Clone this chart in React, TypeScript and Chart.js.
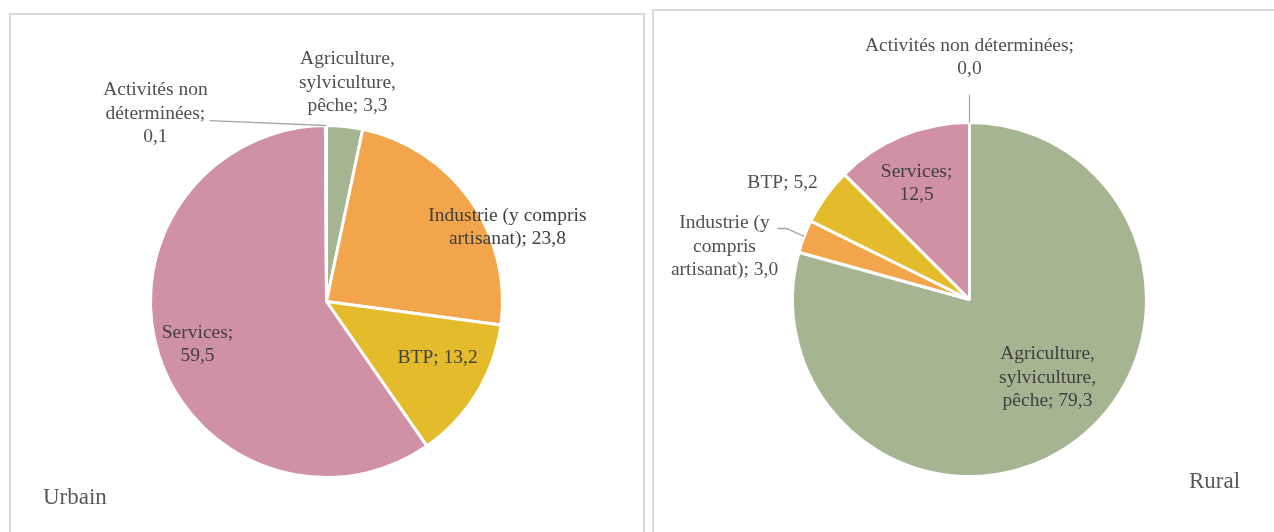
import React, { useEffect, useRef } from "react";
import { Chart, registerables } from "chart.js";

Chart.register(...registerables);

// ---- Data ----
const categories = [
  "Agriculture, sylviculture, pêche",
  "Industrie (y compris artisanat)",
  "BTP",
  "Services",
  "Activités non déterminées",
];
const urbanValues = [3.3, 23.8, 13.2, 59.5, 0.1];
const ruralValues = [79.3, 3.0, 5.2, 12.5, 0.0];

// wrapped data-label texts ({v} = value)
const urbanLabelText = [
  "Agriculture,\nsylviculture,\npêche; {v}",
  "Industrie (y compris\nartisanat); {v}",
  "BTP; {v}",
  "Services;\n{v}",
  "Activités non\ndéterminées;\n{v}",
];
const ruralLabelText = [
  "Agriculture,\nsylviculture,\npêche; {v}",
  "Industrie (y\ncompris\nartisanat); {v}",
  "BTP; {v}",
  "Services;\n{v}",
  "Activités non déterminées;\n{v}",
];

// ---- Styles ----
const sliceColors = ["#a5b592", "#f2a54a", "#e4bc2b", "#d191a5", "#a0a0a0"];
const FONT = "'Liberation Serif', 'Times New Roman', serif";

// label placement relative to pie centre, in units of the radius
const urbanLayout = [
  { dx: 0.119, dy: -1.244, outside: true },
  { dx: 1.028, dy: -0.42 },
  { dx: 0.631, dy: 0.318 },
  { dx: -0.733, dy: 0.244 },
  { dx: -0.972, dy: -1.068, outside: true, leader: [[-0.665, -1.028]] },
];
const ruralLayout = [
  { dx: 0.441, dy: 0.441 },
  { dx: -1.384, dy: -0.299, outside: true, leader: [[-1.085, -0.401], [-1.034, -0.401]] },
  { dx: -1.056, dy: -0.661, outside: true },
  { dx: -0.299, dy: -0.655 },
  { dx: 0, dy: -1.367, outside: true, leader: [[0, -1.158]] },
];

const fmt = (v: number) => v.toFixed(1).replace(".", ",");

const labelPlugin = {
  id: "sliceLabels",
  afterDatasetsDraw(chart: any, _args: any, opts: any) {
    const { ctx } = chart;
    const meta = chart.getDatasetMeta(0);
    const values = chart.data.datasets[0].data as number[];
    ctx.save();
    ctx.font = opts.font;
    ctx.textAlign = "center";
    ctx.textBaseline = "middle";
    meta.data.forEach((arc: any, i: number) => {
      const p = arc.getProps(["x", "y", "outerRadius", "startAngle", "endAngle"], true);
      const lay = opts.layout[i];
      const R = p.outerRadius;
      if (lay.leader) {
        const mid = (p.startAngle + p.endAngle) / 2;
        ctx.strokeStyle = opts.leaderColor;
        ctx.lineWidth = 1.3;
        ctx.beginPath();
        lay.leader.forEach((pt: number[], k: number) => {
          const x = p.x + pt[0] * R;
          const y = p.y + pt[1] * R;
          if (k === 0) ctx.moveTo(x, y);
          else ctx.lineTo(x, y);
        });
        ctx.lineTo(p.x + Math.cos(mid) * R, p.y + Math.sin(mid) * R);
        ctx.stroke();
      }
      const text = opts.texts[i].replace("{v}", fmt(values[i]));
      const lines = text.split("\n");
      const lx = p.x + lay.dx * R;
      const ly = p.y + lay.dy * R;
      const lh = opts.lineHeight;
      const top = ly - ((lines.length - 1) * lh) / 2;
      ctx.fillStyle = lay.outside ? opts.outsideColor : opts.color;
      lines.forEach((ln: string, k: number) => ctx.fillText(ln, lx, top + k * lh));
    });
    ctx.restore();
  },
};

function PieCanvas(props: {
  values: number[];
  texts: string[];
  layout: any[];
  padding: { left: number; right: number; top: number; bottom: number };
}) {
  const ref = useRef<HTMLCanvasElement | null>(null);
  useEffect(() => {
    if (!ref.current) return;
    const chart = new Chart(ref.current, {
      type: "pie",
      data: {
        labels: categories,
        datasets: [
          {
            data: props.values,
            backgroundColor: sliceColors,
            borderColor: "#ffffff",
            borderWidth: 3,
          },
        ],
      },
      options: {
        responsive: false,
        animation: false,
        layout: { padding: props.padding },
        plugins: {
          legend: { display: false },
          tooltip: { enabled: false },
          sliceLabels: {
            font: `19.5px ${FONT}`,
            color: "#404040",
            outsideColor: "#505050",
            leaderColor: "#a6a6a6",
            lineHeight: 23.5,
            texts: props.texts,
            layout: props.layout,
          },
        } as any,
      },
      plugins: [labelPlugin],
    });
    return () => chart.destroy();
  }, []);
  return (
    <canvas
      ref={ref}
      width={1274}
      height={532}
      style={{ position: "absolute", left: 0, top: 0, width: 1274, height: 532 }}
    />
  );
}

export default function App() {
  return (
    <div
      style={{
        position: "fixed",
        left: 0,
        top: 0,
        width: 1274,
        height: 532,
        overflow: "hidden",
        background: "#ffffff",
      }}
    >
      <div
        style={{
          position: "absolute",
          left: 9,
          top: 13,
          width: 632,
          height: 540,
          border: "2px solid #d9d9d9",
        }}
      />
      <div
        style={{
          position: "absolute",
          left: 652,
          top: 9,
          width: 640,
          height: 540,
          border: "2px solid #d9d9d9",
        }}
      />
      <PieCanvas
        values={urbanValues}
        texts={urbanLabelText}
        layout={urbanLayout}
        padding={{ left: 149, right: 770, top: 124, bottom: 53 }}
      />
      <PieCanvas
        values={ruralValues}
        texts={ruralLabelText}
        layout={ruralLayout}
        padding={{ left: 791, right: 126, top: 121, bottom: 54 }}
      />
      <div
        style={{
          position: "absolute",
          left: 43,
          top: 484,
          fontFamily: FONT,
          fontSize: 23,
          color: "#595959",
          lineHeight: "26px",
        }}
      >
        Urbain
      </div>
      <div
        style={{
          position: "absolute",
          left: 1189,
          top: 468,
          fontFamily: FONT,
          fontSize: 23,
          color: "#595959",
          lineHeight: "26px",
        }}
      >
        Rural
      </div>
    </div>
  );
}
